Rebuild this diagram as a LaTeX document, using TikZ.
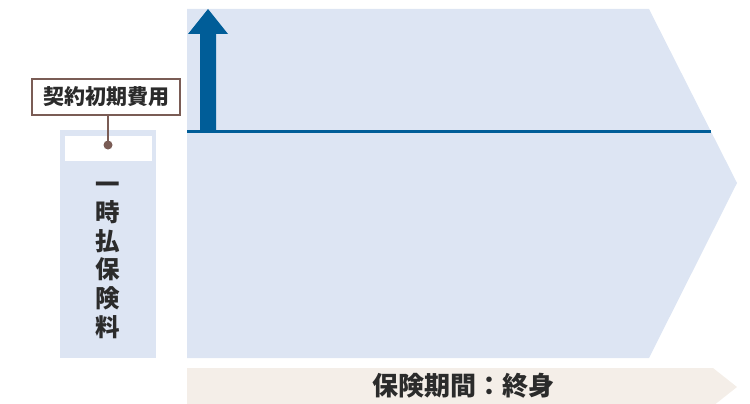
\documentclass[tikz,border=0pt]{standalone}
\usepackage{fontspec}
\newfontfamily\cjk{Noto Sans CJK JP}
\definecolor{paleblue}{HTML}{DDE5F3}
\definecolor{darkblue}{HTML}{005D98}
\definecolor{beige}{HTML}{F4EEE8}
\definecolor{brownline}{HTML}{7A5C55}
\definecolor{txt}{HTML}{2B2B2B}
\tikzset{
  lbl/.style={font=\cjk\bfseries, text=txt, inner sep=0pt},
}
\begin{document}
\begin{tikzpicture}[x=1pt,y=-1pt]
\useasboundingbox (0,0) rectangle (750,404);
% big chevron area
\fill[paleblue] (187,9) -- (649,9) -- (737,183) -- (649,358) -- (187,358) -- cycle;
% baseline
\coordinate (lineL) at (187,131);
\coordinate (lineR) at (711,131);
\draw[darkblue, line width=3pt] (lineL) -- (lineR);
% thick up arrow
\fill[darkblue] (200,131) -- (200,34) -- (188,34) -- (208,9) -- (228,34) -- (216,34) -- (216,131) -- cycle;
% bottom band
\fill[beige] (187,368) -- (713,368) -- (737,387) -- (713,406) -- (187,406) -- cycle;
\node[lbl, font=\cjk\bfseries\fontsize{26}{28}\selectfont] (period) at (463,386) {保険期間：終身};
% left column
\fill[paleblue] (60,130) rectangle (156,358);
\fill[white] (65,136) rectangle (152,161);
\node[lbl, align=center, font=\cjk\bfseries\fontsize{24.5}{28.6}\selectfont] (single) at (108,260) {一\\時\\払\\保\\険\\料};
% label box
\node[lbl, draw=brownline, line width=1.5pt, fill=white, minimum width=148pt, minimum height=36pt, font=\cjk\bfseries\fontsize{21}{24}\selectfont] (fee) at (106,97) {契約初期費用};
\coordinate (dot) at (108,145);
\draw[brownline, line width=1.5pt] (fee.south -| dot) -- (dot);
\fill[brownline] (dot) circle (4.5pt);
\end{tikzpicture}
\end{document}
